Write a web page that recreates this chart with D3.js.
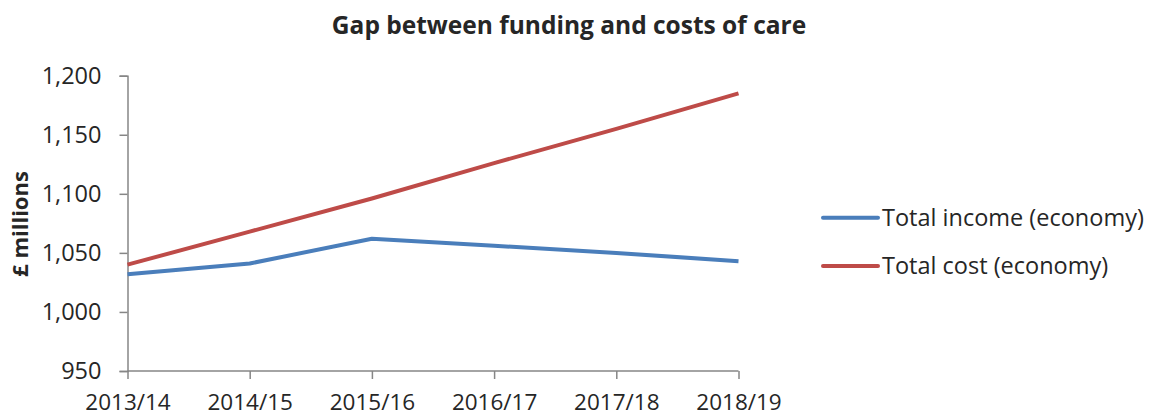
<!DOCTYPE html>
<html>
<head>
<meta charset="utf-8">
<script src="https://cdn.jsdelivr.net/npm/d3@7"></script>
<style>
  html, body { margin: 0; padding: 0; background: #fff; }
  svg { display: block; }
  text { font-family: "Open Sans", sans-serif; fill: #262626; }
</style>
</head>
<body>
<svg id="chart" width="1152" height="417"></svg>
<script>
const categories = ["2013/14", "2014/15", "2015/16", "2016/17", "2017/18", "2018/19"];
const incomeValues = [1032, 1041, 1062, 1056, 1050, 1043];
const costValues = [1040, 1068, 1096, 1126, 1155, 1185];
const yTicks = [950, 1000, 1050, 1100, 1150, 1200];
const seriesNames = ["Total income (economy)", "Total cost (economy)"];
const seriesColors = ["#4a7ebb", "#be4b48"];

const svg = d3.select("#chart");
const x0 = 127.5, x1 = 738.5, yTop = 75.7, yBot = 371;
const FONT = "'Open Sans', sans-serif";

const x = d3.scalePoint().domain(categories).range([x0, x1]);
const y = d3.scaleLinear().domain([950, 1200]).range([yBot, yTop]);

// title
svg.append("text").attr("x", 569).attr("y", 34).attr("text-anchor", "middle")
  .style("font-weight", "bold").style("font-size", "24.5px").text("Gap between funding and costs of care");

// y axis
const yAxis = svg.append("g").attr("transform", `translate(${x0},0)`)
  .call(d3.axisLeft(y).tickValues(yTicks).tickSize(8).tickPadding(18).tickFormat(d3.format(",")));
yAxis.selectAll("path, line").attr("stroke", "#868686").attr("stroke-width", 1.5);
yAxis.selectAll("text").style("font-size", "23.5px").style("font-family", FONT).attr("fill", "#262626");

// x axis
const xAxis = svg.append("g").attr("transform", `translate(0,${yBot})`)
  .call(d3.axisBottom(x).tickSize(8).tickPadding(15).tickSizeOuter(0));
xAxis.select("path").attr("d", `M${x0},0H${x1}`);
xAxis.selectAll("path, line").attr("stroke", "#868686").attr("stroke-width", 1.5);
xAxis.selectAll("text").style("font-size", "22.5px").style("font-family", FONT).attr("fill", "#262626");

// y label
svg.append("text").attr("transform", "translate(28,224) rotate(-90)").attr("text-anchor", "middle")
  .style("font-weight", "bold").style("font-size", "22px").text("£ millions");

// lines
const line = d3.line().x((d, i) => x(categories[i])).y(d => y(d));
[incomeValues, costValues].forEach((vals, i) => {
  svg.append("path").datum(vals).attr("d", line).attr("fill", "none")
    .attr("stroke", seriesColors[i]).attr("stroke-width", 4).attr("stroke-linejoin", "round");
});

// legend
const legY = [217.7, 266];
seriesNames.forEach((name, i) => {
  svg.append("line").attr("x1", 823).attr("x2", 878).attr("y1", legY[i]).attr("y2", legY[i])
    .attr("stroke", seriesColors[i]).attr("stroke-width", 4).attr("stroke-linecap", "round");
  svg.append("text").attr("x", 882).attr("y", legY[i]).attr("dy", "0.35em")
    .style("font-size", "23.5px").text(name);
});
</script>
</body>
</html>
